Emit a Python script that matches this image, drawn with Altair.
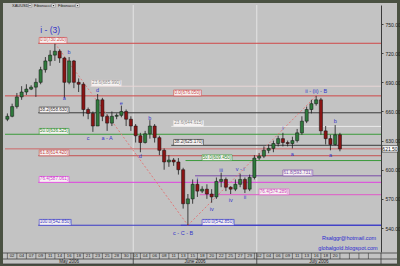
import altair as alt
import pandas as pd

# ---------------- data ----------------
dates = [
    "2006-05-01", "2006-05-02", "2006-05-03", "2006-05-04", "2006-05-05", "2006-05-07", "2006-05-08",
    "2006-05-09", "2006-05-10", "2006-05-11", "2006-05-12", "2006-05-14", "2006-05-15", "2006-05-16",
    "2006-05-17", "2006-05-18", "2006-05-19", "2006-05-21", "2006-05-22", "2006-05-23", "2006-05-24",
    "2006-05-25", "2006-05-26", "2006-05-28", "2006-05-29", "2006-05-30", "2006-05-31",
    "2006-06-01", "2006-06-02", "2006-06-04", "2006-06-05", "2006-06-06", "2006-06-07", "2006-06-08",
    "2006-06-09", "2006-06-11", "2006-06-12", "2006-06-13", "2006-06-14", "2006-06-15", "2006-06-16",
    "2006-06-18", "2006-06-19", "2006-06-20", "2006-06-21", "2006-06-22", "2006-06-23", "2006-06-25",
    "2006-06-26", "2006-06-27", "2006-06-28", "2006-06-29", "2006-06-30",
    "2006-07-02", "2006-07-03", "2006-07-04", "2006-07-05", "2006-07-06", "2006-07-07", "2006-07-09",
    "2006-07-10", "2006-07-11", "2006-07-12", "2006-07-13", "2006-07-14", "2006-07-16", "2006-07-17",
    "2006-07-18", "2006-07-19", "2006-07-20", "2006-07-21",
]
first_open = 652
closes = [655, 665, 675, 680, 683, 685, 690, 703, 712, 718,
          722, 715, 690, 712, 690, 688, 662, 658, 645, 672,
          655, 648, 655, 656, 660, 652, 645, 635, 628, 637,
          645, 633, 620, 608, 610, 608, 600, 565, 570, 585,
          578, 580, 575, 572, 588, 590, 582, 580, 585, 590,
          580, 592, 612, 614, 620, 622, 627, 632, 628, 627,
          630, 638, 650, 662, 668, 672, 640, 632, 626, 636,
          621.5]
highs = [658, 668, 679, 686, 688, 687, 694, 706, 716, 723,
         730.2, 724, 716, 716, 713, 694, 690, 664, 660, 678,
         674, 657, 660, 658, 666, 662, 655, 647, 638, 640,
         651, 647, 635, 622, 615, 612, 612, 602, 575, 590,
         590, 583, 585, 580, 592, 597, 592, 583, 590, 596,
         592, 595, 615, 617, 624, 626, 630, 635, 638, 630,
         634, 642, 655, 665, 672, 676.05, 674, 645, 636, 646,
         638]
lows = [650, 654, 663, 672, 677, 682, 675, 688, 700, 707,
        712, 710, 674, 688, 684, 680, 655, 652, 639, 645,
        650, 640, 645, 652, 654, 645, 640, 628, 618, 627,
        632, 628, 615, 600, 603, 604, 595, 560, 542.85, 565,
        572, 576, 570, 566, 570, 582, 578, 575, 578, 582,
        576, 578, 590, 610, 612, 617, 618, 624, 624, 624,
        622, 628, 636, 648, 658, 666, 636, 626, 620, 625,
        619]

# Fibonacci set 1 (high 730.20 -> low 542.85)
fib1_text = ["0.0(730.200)", "23.6(685.990)", "38.2(658.630)", "50.0(636.525)",
             "61.8(614.420)", "76.4(587.061)", "100.0(542.850)"]
fib1_price = [730.2, 685.99, 658.63, 636.525, 614.42, 587.061, 542.85]
fib1_start = ["2006-05-09", "2006-05-22", "2006-05-09", "2006-05-01", "2006-05-09", "2006-05-09", "2006-05-09"]

# Fibonacci set 2 (low 542.85 -> high 676.05)
fib2_text = ["0.0(676.050)", "23.6(644.615)", "38.2(625.170)", "50.0(609.450)",
             "61.8(593.731)", "76.4(574.289)", "100.0(542.850)"]
fib2_price = [676.05, 644.615, 625.17, 609.45, 593.731, 574.289, 542.85]
fib2_label_at = ["2006-06-11", "2006-06-11", "2006-06-11", "2006-06-18", "2006-07-07", "2006-07-02", "2006-06-18"]
fib2_line_at = ["2006-05-01", "2006-06-11", "2006-06-11", "2006-06-14", "2006-06-16", "2006-06-18", "2006-06-13"]

# Elliott wave labels (bar date, price level)
wave_text = ["i - (3)", "b", "a", "c", "d", "a - A", "e", "d", "b", "c - C - B",
             "i", "iv", "iii", "iv", "v - i", "ii", "i", "a", "ii - (ii) - B", "a", "b"]
wave_date = ["2006-05-11", "2006-05-16", "2006-05-15", "2006-05-21", "2006-05-23", "2006-05-25",
             "2006-05-29", "2006-06-02", "2006-06-05", "2006-06-13",
             "2006-06-16", "2006-06-20", "2006-06-22", "2006-06-25", "2006-06-27", "2006-06-28",
             "2006-07-07", "2006-07-10", "2006-07-16", "2006-07-19", "2006-07-20"]
wave_price = [744, 721, 674, 633, 682, 633, 669, 614, 653, 535,
              590, 560, 600, 569, 601, 572, 643, 616, 681, 615, 650]

day_label_dates = ["2006-05-02", "2006-05-04", "2006-05-07", "2006-05-09", "2006-05-11", "2006-05-14",
                   "2006-05-16", "2006-05-18", "2006-05-21", "2006-05-23", "2006-05-25", "2006-05-28",
                   "2006-05-30", "2006-06-01", "2006-06-04", "2006-06-06", "2006-06-08", "2006-06-11",
                   "2006-06-13", "2006-06-15", "2006-06-18", "2006-06-20", "2006-06-22", "2006-06-25",
                   "2006-06-27", "2006-06-29", "2006-07-02", "2006-07-04", "2006-07-06", "2006-07-09",
                   "2006-07-11", "2006-07-13", "2006-07-16", "2006-07-18", "2006-07-20"]
empty_cells = 4
month_names = ["May 2006", "June 2006", "July 2006"]
price_ticks = [540, 570, 600, 630, 660, 690, 720, 750]
last_price = 621.50

# ---------------- layout/style ----------------
W, H = 376, 247
X_DOM = [-0.5, 78.65]
Y_DOM = [515.3, 769.6]
FONT = "Liberation Sans"
BG = "#c3c3c3"
FRAME = "#4a5142"
BLUE = "#3434c8"
xs = alt.Scale(domain=X_DOM, nice=False, zero=False)
ys = alt.Scale(domain=Y_DOM, nice=False, zero=False)
YAX = alt.Axis(orient="right", values=price_ticks, format=".2f", zindex=2,
               labelFontSize=5, labelFont=FONT, labelColor="#202020", tickSize=2, tickColor="#404040",
               domainColor="#3a3a3a", domainWidth=1, labelPadding=2, grid=False, title=None)
idx = {d: i for i, d in enumerate(dates)}


def X(f):
    return alt.X(f, scale=xs, axis=None)


def Y(f):
    return alt.Y(f, scale=ys, axis=YAX)


opens = [first_open] + closes[:-1]
candles = pd.DataFrame({"i": list(range(len(dates))), "date": dates, "o": opens,
                        "h": highs, "l": lows, "c": closes})
candles["x1"] = candles["i"] - 0.33
candles["x2"] = candles["i"] + 0.33
candles["fill"] = ["#2f7a3c" if c >= o else "#8a1414" for o, c in zip(opens, closes)]

one = pd.DataFrame({"a": [0]})

frame = alt.Chart(one).mark_rect(color=BG).encode(
    x=alt.value(-2), x2=alt.value(392), y=alt.value(-2), y2=alt.value(259))

# month separators inside plot
mb = [i - 0.5 for i in range(1, len(dates)) if dates[i][5:7] != dates[i - 1][5:7]]
msep = alt.Chart(pd.DataFrame({"x": mb})).mark_rule(color="#e4e4e4", strokeWidth=1).encode(
    x=X("x:Q"), y=alt.value(0), y2=alt.value(H))

# fib lines
rows = []
CW = 2.15 / 4.75  # char width in bar units
for t, p, s in zip(fib1_text, fib1_price, fib1_start):
    rows.append({"t": t, "p": p, "lx": max(idx[s], 7) - 0.3, "sx": idx[s] - 0.5})
for t, p, la, sa in zip(fib2_text, fib2_price, fib2_label_at, fib2_line_at):
    rows.append({"t": t, "p": p, "lx": idx[la], "sx": min(idx[la], idx[sa]) - 0.5})
fib = pd.DataFrame(rows)
line_cols = ["#d04848", "#e8d6d6", "#3a3a3a", "#3a9a3a", "#c45050", "#e040e0", "#3a3ac8",
             "#d04848", "#eaeaea", "#3a3a3a", "#3a9a3a", "#7a4aa8", "#e058c8", "#3a3ac8"]
text_cols = ["#d04848", "#8a8a8a", "#3a3a3a", "#2a8a2a", "#c44040", "#d030d0", "#3a3ac8",
             "#d04848", "#8a8a8a", "#3a3a3a", "#2a8a2a", "#7a4aa8", "#d040b8", "#3a3ac8"]
fib["lc"] = line_cols
fib["tc"] = text_cols
fib["ex"] = X_DOM[1]
fib["bx2"] = fib["lx"] + fib["t"].str.len() * CW + 0.4
fib["tx"] = (fib["lx"] + fib["bx2"]) / 2
fib["ptop"] = fib["p"] + 6.0

# bid line at the last price, across the whole chart
bid = pd.DataFrame({"p": [last_price], "sx": [X_DOM[0]], "ex": [X_DOM[1]]})
bid_line = alt.Chart(bid).mark_rule(strokeWidth=1, color="#cf6a6a").encode(
    x=X("sx:Q"), x2="ex:Q", y=Y("p:Q"))

fib_lines = alt.Chart(fib).mark_rule(strokeWidth=1).encode(
    x=X("sx:Q"), x2="ex:Q", y=Y("p:Q"), color=alt.Color("lc:N", scale=None))
fib_boxes = alt.Chart(fib).mark_rect(fill="#f6f2f2", strokeWidth=0.6).encode(
    x=X("lx:Q"), x2="bx2:Q", y=Y("p:Q"), y2="ptop:Q", stroke=alt.Color("lc:N", scale=None))
fib_texts = alt.Chart(fib).mark_text(fontSize=4.6, font=FONT, baseline="middle", dy=-3).encode(
    x=X("tx:Q"), y=Y("p:Q"), text="t:N", color=alt.Color("tc:N", scale=None))

# diagonal dashed trend lines of the Fibonacci tools
hi1 = highs.index(max(highs))
lo = lows.index(min(lows))
hi2 = highs.index(676.05)
diag = pd.DataFrame({"x": [hi1, lo, lo, hi2],
                     "p": [highs[hi1], lows[lo], lows[lo], highs[hi2]],
                     "g": ["a", "a", "b", "b"]})
diag_l = alt.Chart(diag).mark_line(color="#e07a7a", strokeWidth=1, strokeDash=[2, 2]).encode(
    x=X("x:Q"), y=Y("p:Q"), detail="g:N")

# candles
wicks = alt.Chart(candles).mark_rule(color="#1a1a1a", strokeWidth=0.8).encode(
    x=X("i:Q"), y=Y("l:Q"), y2="h:Q")
bodies = alt.Chart(candles).mark_rect(stroke="#101010", strokeWidth=0.5).encode(
    x=X("x1:Q"), x2="x2:Q", y=Y("o:Q"), y2="c:Q", fill=alt.Color("fill:N", scale=None))

# wave labels
wv = pd.DataFrame({"t": wave_text, "x": [idx[d] for d in wave_date], "p": wave_price})
wv["fs"] = [8.5 if t == "i - (3)" else 5.5 for t in wave_text]
waves = alt.Chart(wv).mark_text(color=BLUE, font=FONT, baseline="middle").encode(
    x=X("x:Q"), y=Y("p:Q"), text="t:N", size=alt.Size("fs:Q", scale=None))

# last price tag
tag = pd.DataFrame({"p": [last_price], "p1": [last_price - 3.3], "p2": [last_price + 3.3],
                    "t": [f"{last_price:.2f}"]})
tag_box = alt.Chart(tag).mark_rect(fill="#ffffff", stroke="#202020", strokeWidth=0.6).encode(
    x=alt.value(W + 1), x2=alt.value(W + 17), y=Y("p1:Q"), y2="p2:Q")
tag_txt = alt.Chart(tag).mark_text(fontSize=5, font=FONT, color="#101010").encode(
    x=alt.value(W + 9), y=Y("p:Q"), text="t:N")

# email / blog text
credits = pd.DataFrame({"t": ["Rsalggr@hotmail.com", "globalgold.blogspot.com"],
                        "xp": [344, 343], "yp": [233, 243]})
cred = alt.Chart(credits).mark_text(fontSize=5.5, font=FONT, color="#2a2ad0").encode(
    x=alt.X("xp:Q", scale=None), y=alt.Y("yp:Q", scale=None), text="t:N")

# header
hdr = pd.DataFrame({"t": ["XAUUSD", "Fibonacci", "Fibonacci"], "xp": [7, 29, 53]})
hdr_t = alt.Chart(hdr).mark_text(fontSize=4.0, font=FONT, color="#202020", align="left",
                                 baseline="middle").encode(
    x=alt.X("xp:Q", scale=None), y=alt.value(0.5), text="t:N")
hdrb = pd.DataFrame({"xp": [25, 48.5, 72.5]})
hdr_bb = alt.Chart(hdrb).mark_point(shape="square", size=12, filled=True, color="#f0f0f0",
                                    stroke="#606060", strokeWidth=0.4, opacity=1).encode(
    x=alt.X("xp:Q", scale=None), y=alt.value(0.5))
hdr_b = alt.Chart(hdrb).mark_point(shape="triangle-down", size=3, filled=True, color="#202020",
                                   opacity=1).encode(
    x=alt.X("xp:Q", scale=None), y=alt.value(0.7))

# bottom date scale
ROW1, ROW2, ROW3 = H + 1, H + 7, H + 12
hlines = pd.DataFrame({"yp": [ROW1, ROW2, ROW3]})
blines = alt.Chart(hlines).mark_rule(color="#3a3a3a", strokeWidth=0.8).encode(
    x=alt.value(-2), x2=alt.value(392), y=alt.Y("yp:Q", scale=None))
lab_idx = [idx[d] for d in day_label_dates]
cells_x = [i - 1 for i in lab_idx] + [lab_idx[-1] + 1 + 2 * k for k in range(empty_cells)]
dsep = alt.Chart(pd.DataFrame({"x": cells_x})).mark_rule(color="#3a3a3a", strokeWidth=0.6).encode(
    x=X("x:Q"), y=alt.value(ROW1), y2=alt.value(ROW2))
dlab = pd.DataFrame({"x": lab_idx, "t": [d[8:] for d in day_label_dates]})
dtxt = alt.Chart(dlab).mark_text(fontSize=4.3, font=FONT, color="#202020", baseline="middle").encode(
    x=X("x:Q"), y=alt.value((ROW1 + ROW2) / 2), text="t:N")
m_start = [-0.5] + mb
m_end = mb + [X_DOM[1]]
mdf = pd.DataFrame({"t": month_names, "x": [(a + b) / 2 for a, b in zip(m_start, m_end)]})
mtxt = alt.Chart(mdf).mark_text(fontSize=4.5, font=FONT, color="#202020", baseline="middle").encode(
    x=X("x:Q"), y=alt.value((ROW2 + ROW3) / 2), text="t:N")
msep2 = alt.Chart(pd.DataFrame({"x": mb + [X_DOM[1]]})).mark_rule(color="#3a3a3a", strokeWidth=0.8).encode(
    x=X("x:Q"), y=alt.value(ROW1), y2=alt.value(ROW3))

chart = alt.layer(
    frame, msep, bid_line, fib_lines, diag_l, wicks, bodies, fib_boxes, fib_texts, waves,
    tag_box, tag_txt, cred, hdr_bb, hdr_b, hdr_t, blines, dsep, dtxt, mtxt, msep2,
).properties(
    width=W, height=H,
    autosize=alt.AutoSizeParams(type="none"),
    padding={"left": 5, "top": 5, "right": 19, "bottom": 14},
    background=FRAME,
).configure_view(stroke=None)

chart.save("out.html", embed_options={"renderer": "svg", "actions": False})
